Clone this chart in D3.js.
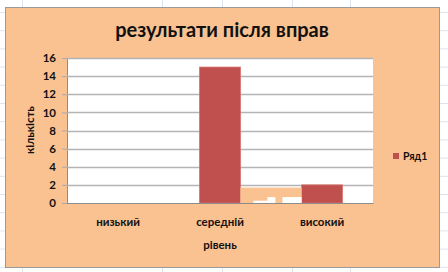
<!DOCTYPE html>
<html>
<head>
<meta charset="utf-8">
<script src="https://cdn.jsdelivr.net/npm/d3@7/dist/d3.min.js"></script>
<style>
  body { margin: 0; background: #fff; }
  text { font-family: Lato, "Open Sans", sans-serif; font-weight: bold; fill: #111; }
</style>
</head>
<body>
<div id="chart"></div>
<script>
// data
var categories = ["низький", "середній", "високий"];
var values = [0, 15, 2];
var yTicks = [0, 2, 4, 6, 8, 10, 12, 14, 16];
var seriesName = "Ряд1";
var title = "результати після вправ";
var xTitle = "рівень";
var yTitle = "кількість";

var W = 448, H = 272;

var svg = d3.select("#chart")
    .append("svg")
    .attr("width", W)
    .attr("height", H);

//spreadsheet grid behind the chart
var sheet = svg.append("g");
d3.range(12, H, 18.2).forEach(function(y){
    sheet.append("line").attr("x1", 0).attr("x2", W).attr("y1", y + 0.5).attr("y2", y + 0.5)
        .attr("stroke", "#dde3ee");
});
[22.5, 162.5, 222.5, 292.5, 350.5].forEach(function(x){
    sheet.append("line").attr("x1", x).attr("x2", x).attr("y1", 0).attr("y2", H)
        .attr("stroke", "#dde3ee");
});

//chart box
svg.append("rect")
    .attr("x", 5.5).attr("y", 7.5)
    .attr("width", 434).attr("height", 260)
    .attr("fill", "#fac191")
    .attr("stroke", "#9a9a9a");

svg.append("text")
    .attr("x", 222).attr("y", 37)
    .attr("text-anchor", "middle")
    .style("font-size", "20px")
    .text(title);

// plot area
var plot = {left: 67, top: 58, right: 373, bottom: 203};

var x = d3.scaleBand()
    .domain(categories)
    .range([plot.left, plot.right])
    .paddingInner(0.6)
    .paddingOuter(0.3);

var y = d3.scaleLinear()
    .domain([0, 16])
    .range([plot.bottom, plot.top]);

svg.append("rect")
    .attr("x", plot.left).attr("y", plot.top)
    .attr("width", plot.right - plot.left).attr("height", plot.bottom - plot.top)
    .attr("fill", "#fff");

// gridlines + y axis
var yAxis = svg.append("g")
    .attr("transform", "translate(" + plot.left + ",0)")
    .call(d3.axisLeft(y)
        .tickValues(yTicks)
        .tickSize(5)
        .tickPadding(6));

yAxis.select(".domain").attr("stroke", "#8c8c8c");
yAxis.selectAll(".tick line").attr("stroke", "#a8a8a8");
yAxis.selectAll(".tick text")
    .style("font-size", "11.5px")
    .attr("fill", "#111");

svg.append("g").selectAll("line")
    .data(yTicks.filter(function(d){ return d > 0; }))
    .enter()
    .append("line")
    .attr("x1", plot.left).attr("x2", plot.right)
    .attr("y1", function(d){ return Math.round(y(d)) + 0.5; })
    .attr("y2", function(d){ return Math.round(y(d)) + 0.5; })
    .attr("stroke", "#b4b4b4")
    .attr("stroke-width", 1.3);

// bars
svg.append("g").selectAll("rect")
    .data(values)
    .enter()
    .append("rect")
    .attr("x", function(d, i){ return x(categories[i]); })
    .attr("y", function(d){ return y(d); })
    .attr("width", x.bandwidth())
    .attr("height", function(d){ return y(0) - y(d); })
    .attr("fill", "#c0504d")
    .attr("stroke", "#d46f6b")
    .attr("stroke-width", 0.8);

//render glitch between the two bars
var gx0 = x(categories[1]) + x.bandwidth(), gx1 = x(categories[2]);
svg.append("rect")
    .attr("x", gx0).attr("y", y(1.7))
    .attr("width", gx1 - gx0).attr("height", y(0) - y(1.7))
    .attr("fill", "#fac191");
svg.append("rect")
    .attr("x", gx0 + 13).attr("y", y(0.25))
    .attr("width", 15).attr("height", y(0) - y(0.25))
    .attr("fill", "#fff");
svg.append("rect")
    .attr("x", gx0 + 27).attr("y", y(0.65))
    .attr("width", 8).attr("height", y(0) - y(0.65))
    .attr("fill", "#fff");
svg.append("rect")
    .attr("x", gx0 + 42).attr("y", y(0.65))
    .attr("width", gx1 - gx0 - 42).attr("height", y(0) - y(0.65))
    .attr("fill", "#fff");

// x axis
var xAxis = svg.append("g")
    .attr("transform", "translate(0," + plot.bottom + ")")
    .call(d3.axisBottom(x).tickSize(0).tickPadding(15));

xAxis.select(".domain").attr("stroke", "#8c8c8c");
xAxis.selectAll(".tick text")
    .style("font-size", "11.5px")
    .attr("fill", "#111");

// axis titles
svg.append("text")
    .attr("x", 220).attr("y", 249)
    .attr("text-anchor", "middle")
    .style("font-size", "11.5px")
    .text(xTitle);

svg.append("text")
    .attr("transform", "translate(34,130) rotate(-90)")
    .attr("text-anchor", "middle")
    .style("font-size", "11.5px")
    .text(yTitle);

// legend
var legend = svg.append("g").attr("transform", "translate(393,153)");
legend.append("rect")
    .attr("width", 6).attr("height", 6)
    .attr("fill", "#c0504d");
legend.append("text")
    .attr("x", 10).attr("y", 6.5)
    .style("font-size", "10.5px")
    .text(seriesName);
</script>
</body>
</html>
